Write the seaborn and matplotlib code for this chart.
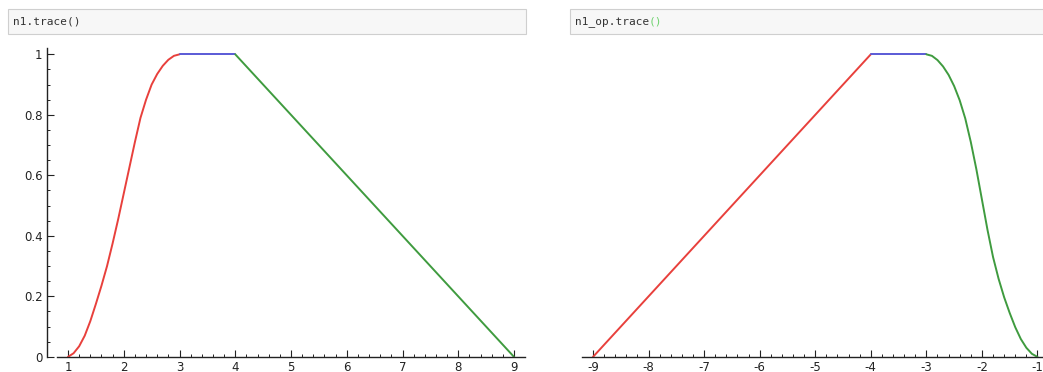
import numpy as np
import matplotlib
matplotlib.use("Agg")
import matplotlib.pyplot as plt
from matplotlib.patches import Rectangle
import seaborn as sns

# ------------------------------------------------------------
# data read off the two trace() plots
# ------------------------------------------------------------
# n1.trace(): rising curve, flat top, falling line
n1_up_x = [1.0, 1.1, 1.2, 1.3, 1.4, 1.5, 1.6, 1.7, 1.8, 1.9, 2.0,
           2.1, 2.2, 2.3, 2.4, 2.5, 2.6, 2.7, 2.8, 2.9, 3.0]
n1_up_y = [0.0, 0.012, 0.035, 0.07, 0.118, 0.175, 0.235, 0.30, 0.375, 0.455, 0.54,
           0.625, 0.71, 0.79, 0.85, 0.90, 0.935, 0.962, 0.982, 0.995, 1.0]
n1_top_x = [3.0, 4.0]
n1_top_y = [1.0, 1.0]
n1_down_x = [4.0, 9.0]
n1_down_y = [1.0, 0.0]

# n1_op.trace(): rising line, flat top, falling curve
op_up_x = [-9.0, -4.0]
op_up_y = [0.0, 1.0]
op_top_x = [-4.0, -3.0]
op_top_y = [1.0, 1.0]
op_down_x = [-3.0, -2.9, -2.8, -2.7, -2.6, -2.5, -2.4, -2.3, -2.2, -2.1, -2.0,
             -1.9, -1.8, -1.7, -1.6, -1.5, -1.4, -1.3, -1.2, -1.1, -1.0]
op_down_y = [1.0, 0.995, 0.981, 0.96, 0.932, 0.895, 0.848, 0.788, 0.71, 0.62, 0.52,
             0.42, 0.33, 0.258, 0.197, 0.145, 0.098, 0.059, 0.03, 0.01, 0.0]

left_xticks = [1, 2, 3, 4, 5, 6, 7, 8, 9]
left_xlabels = ['1', '2', '3', '4', '5', '6', '7', '8', '9']
right_xticks = [-9, -8, -7, -6, -5, -4, -3, -2, -1]
right_xlabels = ['-9', '-8', '-7', '-6', '-5', '-4', '-3', '-2', '-1']
yticks = [0, 0.2, 0.4, 0.6, 0.8, 1.0]
ylabels = ['0', '0.2', '0.4', '0.6', '0.8', '1']

RED, BLUE, GREEN = '#e8403c', '#5a5ad6', '#3f9b3f'
W, H = 1043, 372

sns.set_style('white')
plt.rcParams['font.family'] = ['DejaVu Sans']

fig = plt.figure(figsize=(W / 100, H / 100), dpi=100)
fig.patch.set_facecolor('white')


def px_box(x0, x1, y_top, y_bot):
    # pixel box -> figure fraction [left, bottom, width, height]
    return [x0 / W, (H - y_bot) / H, (x1 - x0) / W, (y_bot - y_top) / H]


def style_axis(ax, xticks, xlabels, x_lo, x_hi, show_y):
    ax.set_xlim(x_lo, x_hi)
    ax.set_ylim(-0.05, 1.05)
    ax.set_facecolor('none')
    for s in ['top', 'right']:
        ax.spines[s].set_visible(False)
    ax.spines['bottom'].set_position(('data', 0))
    ax.spines['bottom'].set_color('#222222')
    ax.spines['bottom'].set_linewidth(1.0)
    ax.set_xticks(xticks, labels=xlabels)
    ax.set_xticks(np.arange(xticks[0], xticks[-1] + 0.01, 0.2), minor=True)
    ax.tick_params(axis='x', which='both', bottom=True, top=False)
    ax.tick_params(axis='x', which='major', direction='in', length=5, width=0.8,
                   pad=3, labelsize=8.5, colors='#222222')
    ax.tick_params(axis='x', which='minor', direction='in', length=2.5, width=0.7,
                   colors='#222222')
    if show_y:
        ax.spines['left'].set_position(('outward', 7.3))
        ax.spines['left'].set_bounds(0, 1.02)
        ax.spines['left'].set_color('#222222')
        ax.spines['left'].set_linewidth(1.0)
        ax.set_yticks(yticks, labels=ylabels)
        ax.set_yticks(np.arange(0, 1.001, 0.05), minor=True)
        ax.tick_params(axis='y', which='both', left=True, right=False)
        ax.tick_params(axis='y', which='major', direction='in', length=5, width=0.8,
                       pad=3, labelsize=8.5, colors='#222222')
        ax.tick_params(axis='y', which='minor', direction='in', length=2.5, width=0.7,
                       colors='#222222')
    else:
        ax.spines['left'].set_visible(False)
        ax.set_yticks([])
    ax.set_xlabel('')
    ax.set_ylabel('')


# left plot: x 0.8 -> 56.85px, 9.2 -> 525.15px
ax1 = fig.add_axes(px_box(56.85, 525.15, 39.2, 372.0))
sns.lineplot(x=n1_up_x, y=n1_up_y, color=RED, lw=1.4, sort=False, ax=ax1)
sns.lineplot(x=n1_top_x, y=n1_top_y, color=BLUE, lw=1.4, sort=False, ax=ax1)
sns.lineplot(x=n1_down_x, y=n1_down_y, color=GREEN, lw=1.4, sort=False, ax=ax1)
style_axis(ax1, left_xticks, left_xlabels, 0.8, 9.2, True)

# right plot: x -9.2 -> 581.9px, -0.8 -> 1048.6px (runs past the edge)
ax2 = fig.add_axes(px_box(581.9, 1048.6, 39.2, 372.0))
sns.lineplot(x=op_up_x, y=op_up_y, color=RED, lw=1.4, sort=False, ax=ax2)
sns.lineplot(x=op_top_x, y=op_top_y, color=BLUE, lw=1.4, sort=False, ax=ax2)
sns.lineplot(x=op_down_x, y=op_down_y, color=GREEN, lw=1.4, sort=False, ax=ax2)
style_axis(ax2, right_xticks, right_xlabels, -9.2, -0.8, False)

# notebook code cells above the plots
for x0, x1 in [(8, 526), (570, 1060)]:
    fig.add_artist(Rectangle((x0 / W, (H - 34) / H), (x1 - x0) / W, 25 / H,
                             transform=fig.transFigure, facecolor='#f7f7f7',
                             edgecolor='#cfcfcf', linewidth=0.8))

mono = dict(family='DejaVu Sans Mono', size=8, va='center', ha='left')
ty = (H - 21.5) / H
fig.text(13 / W, ty, 'n1.trace()', color='#333333', **mono)
fig.text(575 / W, ty, 'n1_op.trace', color='#333333', **mono)
char_w = 0.602 * 8 * 100 / 72
fig.text((575 + 11 * char_w) / W, ty, '()', color='#6fd36f', **mono)

fig.savefig('out.png', dpi=100)
